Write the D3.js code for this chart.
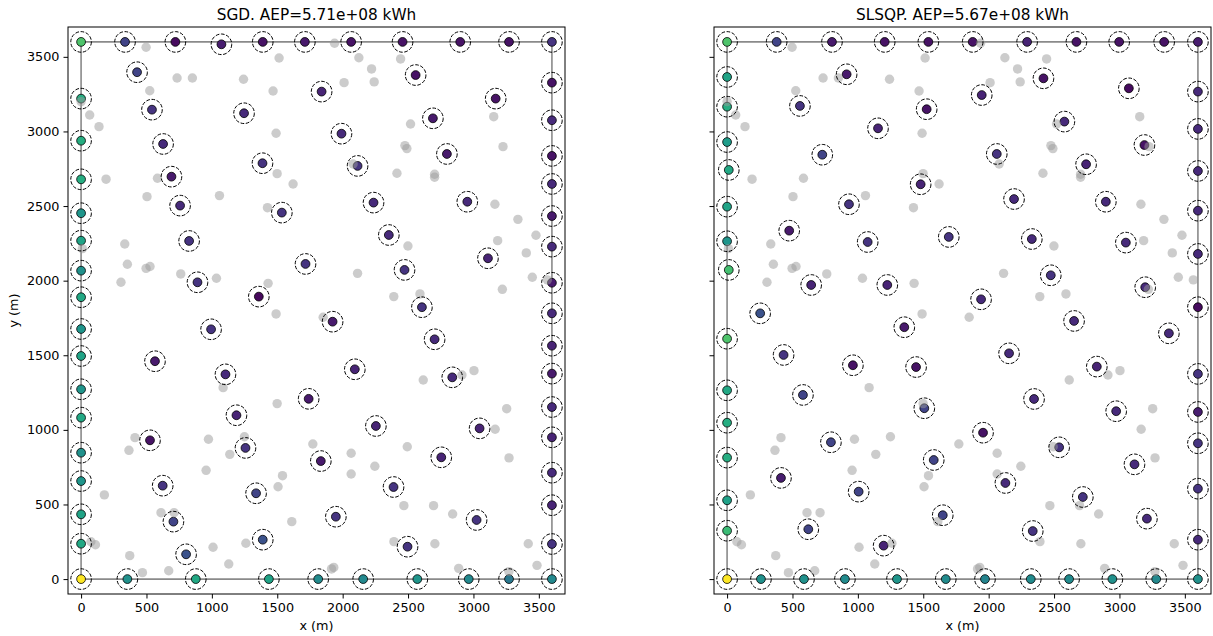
<!DOCTYPE html>
<html>
<head>
<meta charset="utf-8">
<script src="https://cdn.jsdelivr.net/npm/d3@7"></script>
<style>
  html, body { margin: 0; padding: 0; background: #fff; }
  svg { display: block; font-family: "DejaVu Sans", sans-serif; }
</style>
</head>
<body>
<svg id="chart" width="1213" height="636"></svg>
<script>
// Initial turbine layout (shared by both optimisers), metres
const initX = [497,1514,734,851,1242,525,1468,66,137,1491,191,584,1499,1621,504,1058,1425,334,354,497,
  527,762,1035,305,1430,0,10,1938,2124,2443,2221,2011,2241,3155,2519,2476,2491,3226,2080,2415,
  2703,2703,3164,3340,2499,3185,3478,3404,2114,3450,3565,3221,2391,2591,1851,3004,2912,2616,3254,3166,
  1772,2065,2494,3272,2065,2246,2468,2695,2841,2392,2705,3419,3486,1915,1932,2887,3271,1491,1086,1499,
  412,366,974,1249,1137,956,1540,1506,178,611,711,1611,75,110,1009,1260,372,1129,469,670];
const initY = [3564,3492,3358,3358,3350,3273,3271,3110,3032,2988,2680,2686,2717,2648,2563,2570,2489,2246,2110,2082,
  2095,2045,2016,1989,1982,3200,2215,3591,3494,3486,3419,3327,3332,3099,3050,2905,2885,2898,2782,2720,
  2713,2693,2512,2411,2232,2268,2304,2186,2049,2023,2005,1942,1893,1911,1755,1397,1368,1334,1142,1004,
  905,843,887,812,704,756,492,492,436,251,237,237,92,68,78,72,50,1777,1283,1176,
  948,863,937,954,836,729,693,619,564,445,445,385,250,230,213,240,157,101,43,56];

// SGD result: positions (m) and normalised per-turbine AEP
const sgdX = [0,336,721,1073,1389,1711,2065,2458,2899,3272,
  3600,3600,3600,3600,3600,3600,3600,3600,3600,3600,3600,3600,3600,3600,3600,3600,3600,
  0,354,877,1436,1813,2157,2571,2964,3272,
  0,0,0,0,0,0,0,0,0,0,0,0,0,0,0,
  428,542,1246,627,1387,691,757,1535,826,1716,890,1359,1839,2558,3170,1991,2690,2797,2114,2236,
  2953,2353,3111,2473,2606,1923,2703,2093,2838,1740,2254,3047,1833,2754,2389,1948,3024,2496,994,565,
  1104,1188,527,1257,624,1338,706,1389,803];
const sgdY = [3600,3600,3600,3584,3600,3600,3600,3600,3600,3600,
  3600,3327,3075,2836,2648,2433,2228,1986,1781,1564,1377,1153,950,713,495,235,0,
  0,0,0,0,0,0,0,0,0,
  3220,2938,2679,2452,2268,2067,1889,1676,1495,1272,1082,847,657,434,237,
  3397,3146,3122,2916,2787,2697,2503,2456,2266,2112,1989,1893,3267,3378,3220,2985,3088,2849,2769,2523,
  2529,2306,2150,2072,1822,1725,1607,1406,1352,1208,1026,1010,791,816,617,418,396,217,1674,1460,
  1372,1098,930,879,626,575,385,264,166];
const sgdV = [0.72,0.2,0.03,0.08,0.05,0.07,0.05,0.05,0.05,0.05,
  0.15,0.05,0.12,0.05,0.12,0.07,0.12,0.07,0.12,0.1,0.07,0.12,0.1,0.12,0.1,0.15,0.47,
  1.0,0.5,0.6,0.58,0.48,0.47,0.52,0.47,0.4,
  0.62,0.62,0.62,0.52,0.58,0.5,0.6,0.52,0.58,0.52,0.6,0.5,0.52,0.58,0.6,
  0.2,0.15,0.12,0.12,0.15,0.07,0.12,0.15,0.15,0.15,0.15,0.02,0.1,0.05,0.05,0.12,0.07,0.07,0.15,0.12,
  0.12,0.12,0.1,0.15,0.15,0.07,0.12,0.1,0.12,0.07,0.1,0.1,0.07,0.1,0.15,0.15,0.15,0.15,0.15,0.07,
  0.12,0.1,0.05,0.15,0.15,0.2,0.2,0.25,0.25];

// SLSQP result
const slsqpX = [0,379,802,1205,1539,1878,2294,2671,2998,3342,
  3600,3600,3600,3600,3600,3600,3600,3600,3600,3600,3600,3600,3600,
  0,259,588,901,1299,1672,1972,2322,2615,2946,3281,
  0,0,0,13,0,0,13,0,0,0,0,0,0,
  914,557,1526,1154,728,1480,932,475,1075,1695,643,1225,253,2419,3072,1947,2579,3191,2062,2745,
  2194,2896,2330,3049,2475,3197,1942,2653,3378,2156,2827,2347,2975,1957,2539,3115,2128,2720,3210,2337,
  1355,432,962,1445,580,1508,794,1580,412,1006,1649,621,1197];
const slsqpY = [3600,3600,3600,3600,3600,3600,3600,3600,3600,3600,
  3600,3267,3017,2735,2469,2179,1822,1375,1120,910,606,264,0,
  0,0,0,0,0,0,0,0,0,0,0,
  3365,3166,2929,2742,2496,2264,2072,1611,1265,1048,814,528,324,
  3383,3171,3149,3021,2844,2646,2512,2335,2259,2293,1971,1971,1781,3356,3289,3244,3066,2909,2849,2780,
  2547,2529,2279,2255,2036,1956,1875,1730,1647,1513,1424,1207,1125,981,883,769,644,550,405,322,
  1688,1502,1433,1421,1234,1145,917,798,678,586,428,334,224];
const slsqpV = [0.72,0.2,0.07,0.05,0.05,0.05,0.1,0.05,0.05,0.05,
  0.08,0.12,0.12,0.12,0.12,0.12,0.03,0.15,0.08,0.15,0.15,0.12,0.5,
  1.0,0.5,0.5,0.48,0.52,0.48,0.45,0.48,0.48,0.5,0.47,
  0.58,0.62,0.55,0.6,0.58,0.52,0.7,0.72,0.6,0.62,0.62,0.57,0.68,
  0.07,0.15,0.05,0.1,0.2,0.1,0.15,0.07,0.15,0.15,0.1,0.1,0.25,0.05,0.03,0.1,0.12,0.05,0.15,0.1,
  0.12,0.12,0.12,0.12,0.15,0.12,0.12,0.12,0.12,0.12,0.1,0.12,0.12,0.05,0.15,0.12,0.12,0.15,0.12,0.15,
  0.07,0.15,0.05,0.05,0.2,0.2,0.2,0.2,0.08,0.2,0.2,0.2,0.1];

const titles = ["SGD. AEP=5.71e+08 kWh", "SLSQP. AEP=5.67e+08 kWh"];
const tickValues = [0, 500, 1000, 1500, 2000, 2500, 3000, 3500];
const boundary = [[0, 0], [3600, 0], [3600, 3600], [0, 3600], [0, 0]];

const svg = d3.select("#chart");
const panelW = 497, panelH = 567, panelTop = 27;
const panels = [
  { left: 68, xs: sgdX, ys: sgdY, vs: sgdV, title: titles[0], yLabels: true },
  { left: 714, xs: slsqpX, ys: slsqpY, vs: slsqpV, title: titles[1], yLabels: false }
];

const x = d3.scaleLinear().domain([-100, 3700]).range([0, panelW]);
const y = d3.scaleLinear().domain([-100, 3700]).range([panelH, 0]);
const color = d3.scaleSequential(d3.interpolateViridis).domain([0, 1]);

panels.forEach(p => {
  const g = svg.append("g").attr("transform", `translate(${p.left},${panelTop})`);

  // site boundary
  g.append("path")
    .attr("d", d3.line().x(d => x(d[0])).y(d => y(d[1]))(boundary))
    .attr("fill", "none").attr("stroke", "#8a8a8a").attr("stroke-width", 1.6);

  const final = p.xs.map((v, i) => ({ x: v, y: p.ys[i], v: p.vs[i] }));

  // optimised turbines coloured by AEP
  g.append("g").selectAll("circle").data(final).join("circle")
    .attr("cx", d => x(d.x)).attr("cy", d => y(d.y)).attr("r", 4.4)
    .attr("fill", d => color(d.v)).attr("stroke", "#000").attr("stroke-width", 0.8);

  // initial layout
  g.append("g").selectAll("circle").data(initX.map((v, i) => [v, initY[i]])).join("circle")
    .attr("cx", d => x(d[0])).attr("cy", d => y(d[1])).attr("r", 4.7)
    .attr("fill", "#999").attr("fill-opacity", 0.5);

  // minimum spacing rings
  g.append("g").selectAll("circle").data(final).join("circle")
    .attr("cx", d => x(d.x)).attr("cy", d => y(d.y)).attr("r", 10.3)
    .attr("fill", "none").attr("stroke", "#000").attr("stroke-width", 1)
    .attr("stroke-dasharray", "3.7,1.6");

  // spines
  g.append("rect").attr("width", panelW).attr("height", panelH)
    .attr("fill", "none").attr("stroke", "#000").attr("stroke-width", 1);

  const xAxis = g.append("g").attr("transform", `translate(0,${panelH})`)
    .call(d3.axisBottom(x).tickValues(tickValues).tickSize(4.5).tickPadding(4).tickFormat(d3.format("d")));
  const yAxis = g.append("g")
    .call(d3.axisLeft(y).tickValues(tickValues).tickSize(4.5).tickPadding(4)
      .tickFormat(p.yLabels ? d3.format("d") : () => ""));
  [xAxis, yAxis].forEach(a => {
    a.select(".domain").remove();
    a.selectAll("line").attr("stroke", "#000").attr("stroke-width", 1);
    a.selectAll("text").attr("fill", "#000").style("font-size", "12.8px").style("font-family", "DejaVu Sans");
  });

  g.append("text").attr("x", panelW / 2).attr("y", -7.5)
    .attr("text-anchor", "middle").style("font-size", "15.3px").attr("fill", "#000")
    .text(p.title);

  g.append("text").attr("x", panelW / 2).attr("y", panelH + 36)
    .attr("text-anchor", "middle").style("font-size", "12.8px").attr("fill", "#000")
    .text("x (m)");

  if (p.yLabels) {
    g.append("text")
      .attr("transform", `translate(-50,${panelH / 2}) rotate(-90)`)
      .attr("text-anchor", "middle").style("font-size", "12.8px").attr("fill", "#000")
      .text("y (m)");
  }
});
</script>
</body>
</html>
